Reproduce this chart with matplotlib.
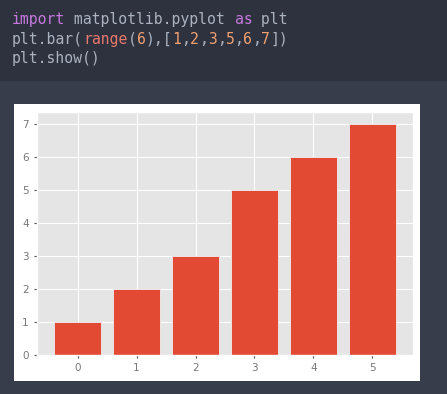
import matplotlib
matplotlib.use("Agg")
import matplotlib.pyplot as plt
from matplotlib.patches import Rectangle

# ── Data ──────────────────────────────────────────────────────────────────────
positions = list(range(6))
heights = [1, 2, 3, 5, 6, 7]
tick_labels = ["0", "1", "2", "3", "4", "5"]

# code cell text, split into coloured tokens per line
code_lines = [
    [("import", "#c678dd"), (" matplotlib.pyplot ", "#abb2bf"), ("as", "#c678dd"), (" plt", "#abb2bf")],
    [("plt.bar(", "#abb2bf"), ("range", "#e8786c"), ("(", "#abb2bf"), ("6", "#f0a070"),
     ("),[", "#abb2bf"), ("1", "#f0a070"), (",", "#abb2bf"), ("2", "#f0a070"), (",", "#abb2bf"),
     ("3", "#f0a070"), (",", "#abb2bf"), ("5", "#f0a070"), (",", "#abb2bf"), ("6", "#f0a070"),
     (",", "#abb2bf"), ("7", "#f0a070"), ("])", "#abb2bf")],
    [("plt.show()", "#abb2bf")],
]

W, H = 447, 394
plt.style.use("ggplot")
fig = plt.figure(figsize=(W / 100, H / 100), dpi=100)
fig.patch.set_facecolor("#373d4a")

# code cell band and output box
fig.patches.append(Rectangle((0, 1 - 81 / H), 1, 81 / H, transform=fig.transFigure,
                             facecolor="#2e323e", edgecolor="none", zorder=0))
fig.patches.append(Rectangle((14 / W, 1 - 381 / H), (420 - 14) / W, (381 - 104) / H,
                             transform=fig.transFigure, facecolor="white",
                             edgecolor="none", zorder=0))

char_w = 8.9
baselines = [24, 44, 63.5]
for line, base in zip(code_lines, baselines):
    col = 0
    for token, color in line:
        fig.text((12 + col * char_w) / W, 1 - base / H, token, color=color,
                 family="DejaVu Sans Mono", fontsize=10.6, va="baseline", ha="left")
        col += len(token)

# ── Chart ─────────────────────────────────────────────────────────────────────
ax = fig.add_axes([37 / W, 39 / H, (413 - 37) / W, (355 - 112) / H])
ax.set_zorder(2)
ax.bar(positions, heights, color="#E24A33", edgecolor="#EEEEEE", linewidth=0.6)
ax.set_xticks(positions)
ax.set_xticklabels(tick_labels)
ax.tick_params(labelsize=7.5, colors="#555555", length=2.5, width=0.8)
ax.tick_params(axis="both", labelcolor="#777777")

fig.savefig("out.png", dpi=100, facecolor=fig.get_facecolor())
